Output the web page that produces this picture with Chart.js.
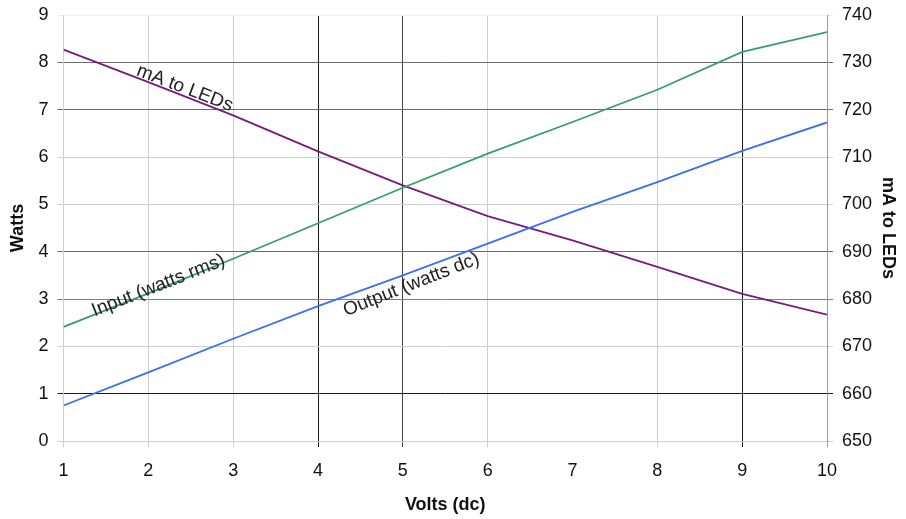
<!DOCTYPE html>
<html>
<head>
<meta charset="utf-8">
<script src="https://cdn.jsdelivr.net/npm/chart.js@4/dist/chart.umd.min.js"></script>
<style>
  html, body { margin: 0; padding: 0; background: #fff; }
  #chart { display: block; }
</style>
</head>
<body>
<canvas id="chart" width="906" height="519"></canvas>
<script>
// values
const volts = [1, 2, 3, 4, 5, 6, 7, 8, 9, 10];
const inputWatts = [2.41, 3.12, 3.85, 4.60, 5.35, 6.07, 6.74, 7.42, 8.22, 8.64];
const outputWatts = [0.75, 1.45, 2.16, 2.85, 3.50, 4.17, 4.84, 5.47, 6.13, 6.73];
const ledMilliamps = [732.7, 725.8, 718.8, 711.2, 704.0, 697.5, 692.4, 686.8, 681.1, 676.7];
const wattTicks = [0, 1, 2, 3, 4, 5, 6, 7, 8, 9];
const mATicks = [650, 660, 670, 680, 690, 700, 710, 720, 730, 740];

const LIGHT = "#cfcfcf";
const DARK = "#6b6b6b";
const BLACK = "#1a1a1a";
// grid shading is uneven in the original
const xGridColors = [LIGHT, LIGHT, LIGHT, BLACK, "#444", LIGHT, "rgba(0,0,0,0)", LIGHT, BLACK, "#9a9a9a"];
const yGridColors = [LIGHT, BLACK, LIGHT, "#808080", DARK, LIGHT, LIGHT, DARK, DARK, "#eeeeee"];

const FONT = "'Liberation Sans', Arial, sans-serif";

const toPoints = (ys) => volts.map((v, i) => ({ x: v, y: ys[i] }));

// text written along the lines
const lineLabels = [
    { text: "mA to LEDs", x: 2.43, y: 7.45, angle: 21 },
    { text: "Input (watts rms)", x: 2.12, y: 3.28, angle: -21.5 },
    { text: "Output (watts dc)", x: 5.10, y: 3.30, angle: -21.5 },
];

const lineLabelPlugin = {
    id: "lineLabels",
    afterDatasetsDraw(chart) {
        const ctx = chart.ctx;
        const xs = chart.scales.x;
        const ys = chart.scales.y;
        ctx.save();
        ctx.font = "19px " + FONT;
        ctx.fillStyle = "#222";
        ctx.textAlign = "center";
        ctx.textBaseline = "middle";
        for (const l of lineLabels) {
            ctx.save();
            ctx.translate(xs.getPixelForValue(l.x), ys.getPixelForValue(l.y));
            ctx.rotate(l.angle * Math.PI / 180);
            ctx.fillText(l.text, 0, 0);
            ctx.restore();
        }
        ctx.restore();
    },
};

const tickFont = { family: FONT, size: 18 };
const titleFont = { family: FONT, size: 18, weight: "bold" };

const fitY = (w) => (s) => {
    s.width = w;
    s.paddingTop = 0;
    s.paddingBottom = 0;
};

new Chart(document.getElementById("chart"), {
    type: "line",
    data: {
        datasets: [
            {
                label: "Input (watts rms)",
                data: toPoints(inputWatts),
                borderColor: "#379f68",
                yAxisID: "y",
            },
            {
                label: "Output (watts dc)",
                data: toPoints(outputWatts),
                borderColor: "#3c6ef5",
                yAxisID: "y",
            },
            {
                label: "mA to LEDs",
                data: toPoints(ledMilliamps),
                borderColor: "#7a1a7c",
                yAxisID: "y1",
            },
        ],
    },
    options: {
        responsive: false,
        animation: false,
        layout: { padding: { top: 15, left: 0, right: 0, bottom: 0 } },
        elements: {
            point: { radius: 0 },
            line: { borderWidth: 1.8, tension: 0 },
        },
        plugins: {
            legend: { display: false },
            tooltip: { enabled: false },
        },
        scales: {
            x: {
                type: "linear",
                min: 1,
                max: 10,
                afterBuildTicks: (s) => { s.ticks = volts.map((v) => ({ value: v })); },
                afterFit: (s) => { s.height = 78; },
                grid: {
                    color: (c) => xGridColors[c.index] || LIGHT,
                    tickLength: 6,
                },
                border: { color: LIGHT },
                ticks: { font: tickFont, color: "#111", padding: 13 },
                title: {
                    display: true,
                    text: "Volts (dc)",
                    font: titleFont,
                    color: "#111",
                    padding: { top: 0, bottom: 3 },
                },
            },
            y: {
                position: "left",
                min: 0,
                max: 9,
                afterBuildTicks: (s) => { s.ticks = wattTicks.map((v) => ({ value: v })); },
                afterFit: fitY(63.5),
                grid: {
                    color: (c) => yGridColors[c.index] || LIGHT,
                    tickLength: 6,
                },
                border: { color: LIGHT },
                ticks: { font: tickFont, color: "#111", padding: 9 },
                title: {
                    display: true,
                    text: "Watts",
                    font: titleFont,
                    color: "#111",
                    padding: { top: 7, bottom: 0 },
                },
            },
            y1: {
                position: "right",
                min: 650,
                max: 740,
                afterBuildTicks: (s) => { s.ticks = mATicks.map((v) => ({ value: v })); },
                afterFit: fitY(79),
                grid: {
                    drawOnChartArea: false,
                    color: (c) => yGridColors[c.index] || LIGHT,
                    tickLength: 6,
                },
                border: { color: "#9a9a9a" },
                ticks: { font: tickFont, color: "#111", padding: 9 },
                title: {
                    display: true,
                    text: "mA to LEDs",
                    font: titleFont,
                    color: "#111",
                    padding: { top: 7, bottom: 0 },
                },
            },
        },
    },
    plugins: [lineLabelPlugin],
});
</script>
</body>
</html>
